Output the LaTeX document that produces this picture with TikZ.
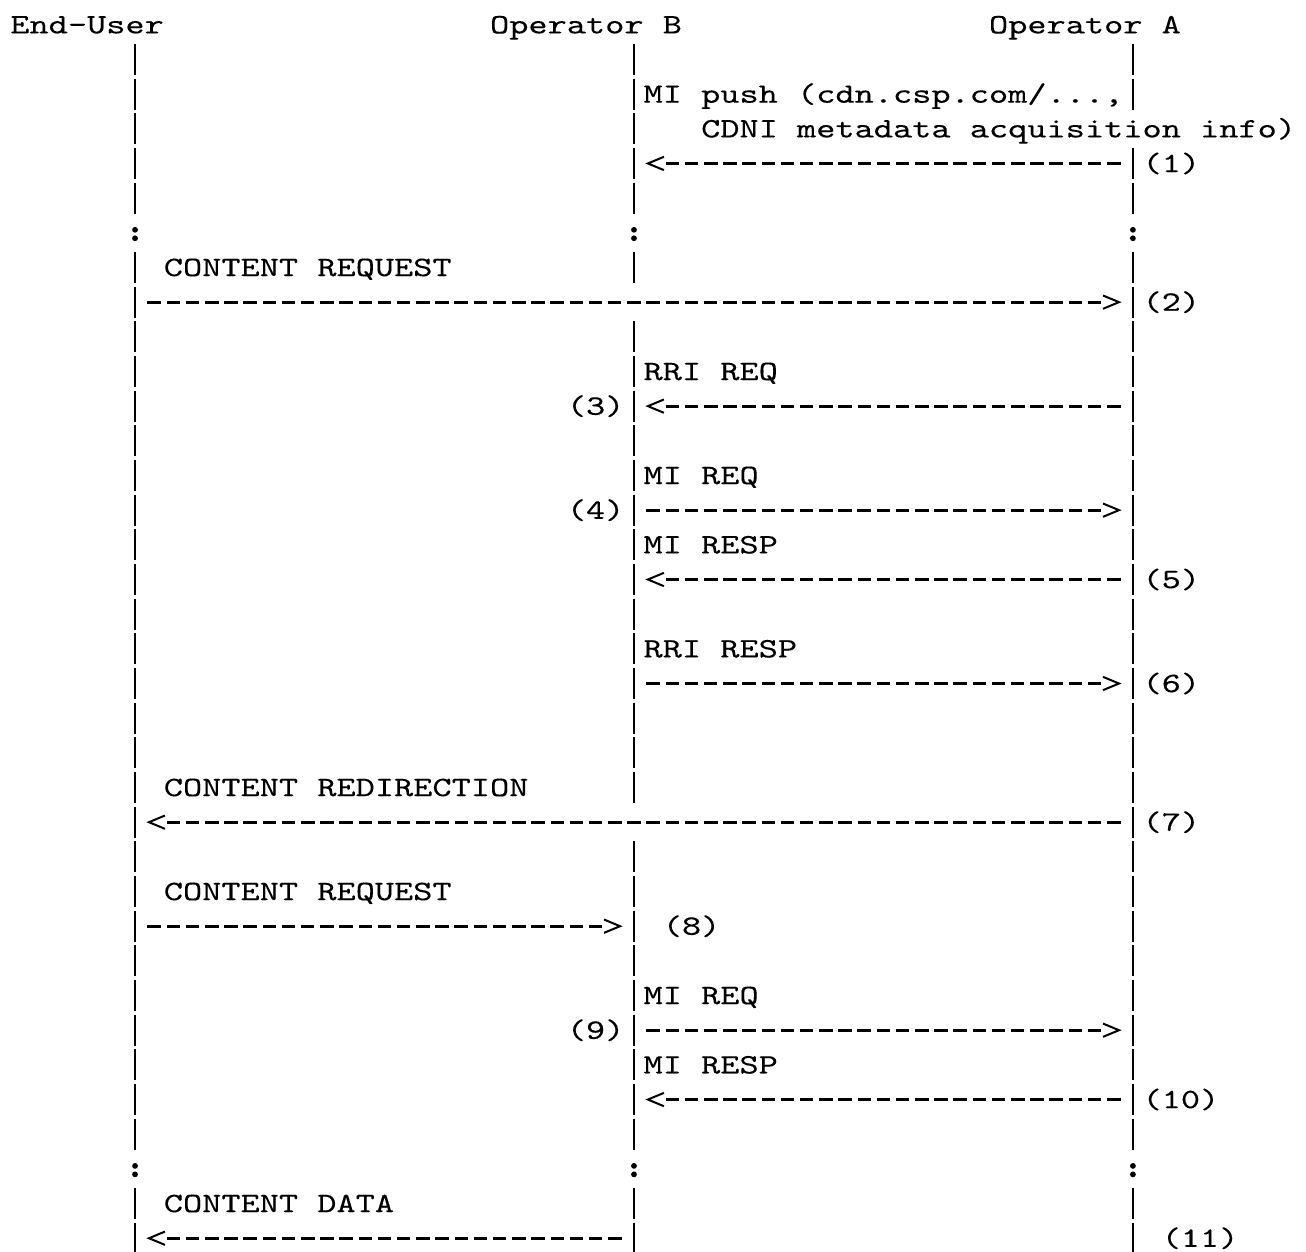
\documentclass[tikz,border=0pt]{standalone}
\usepackage{fontspec}
\usetikzlibrary{arrows.meta,decorations.markings}

% typewriter face, widened to the character grid of the chart
\newfontfamily\asciifont{lmmono10-regular.otf}[FakeStretch=1.3, FakeBold=0.15]

\begin{document}
\begin{tikzpicture}[
    x=9.595pt, y=-17.335pt,
    txt/.style={anchor=base west, inner sep=0pt, outer sep=0pt, yshift=-4.3pt,
      font=\asciifont\fontsize{14.06pt}{17pt}\selectfont},
    life/.style={line width=1pt, dash pattern=on 15.6pt off 1.735pt},
    msg/.style={line width=1.4pt, dash pattern=on 6.75pt off 2.845pt,
      shorten <=6.2pt, shorten >=14.4pt,
      postaction={decorate, decoration={markings, mark=at position -5.65pt with
        {\arrow{Straight Barb[length=8pt, width=6.65pt, line width=1pt]}}}}},
    dot/.style={circle, fill, inner sep=0pt, minimum size=2.9pt}
  ]
    \path[use as bounding box, fill=white] (-0.537,-0.715) rectangle (67.52,35.397);

    % parties
    \node[txt] (eu)  at (0,0)  {End-User};
    \node[txt] (opb) at (25,0) {Operator B};
    \node[txt] (opa) at (51,0) {Operator A};

    % lifelines: column / first row / last row
    \foreach \x/\a/\b in {6.5/1/5, 6.5/7/32, 6.5/34/35,
                          32.5/1/5, 32.5/7/7, 32.5/9/22, 32.5/24/32, 32.5/34/35,
                          58.5/1/2, 58.5/4/5, 58.5/7/32, 58.5/34/35}
      \draw[life] (\x,\a-0.45) -- (\x,\b+0.45);

    % breaks in the lifelines
    \foreach \r in {6,33}
      \foreach \x/\n in {6.5/u,32.5/b,58.5/a} {
        \node[dot, yshift=1.5pt]   (c\n\r t) at (\x,\r) {};
        \node[dot, yshift=-2.75pt] (c\n\r b) at (\x,\r) {};
      }

    % message ends on the lifelines
    \foreach \r in {4,8,11,14,16,19,23,26,29,31,35} {
      \coordinate (u\r) at (6.5,\r);
      \coordinate (b\r) at (32.5,\r);
      \coordinate (a\r) at (58.5,\r);
    }

    \foreach \f/\t in {a4/b4, u8/a8, a11/b11, b14/a14, a16/b16, b19/a19,
                       a23/u23, u26/b26, b29/a29, a31/b31, b35/u35}
      \draw[msg] (\f) -- (\t);

    % message labels
    \node[txt] (push)    at (33,2)  {MI push (cdn.csp.com/...,};
    \node[txt] (acq)     at (36,3)  {CDNI metadata acquisition info)};
    \node[txt] (creq)    at (8,7)   {CONTENT REQUEST};
    \node[txt] (rrireq)  at (33,10) {RRI REQ};
    \node[txt] (mireq)   at (33,13) {MI REQ};
    \node[txt] (miresp)  at (33,15) {MI RESP};
    \node[txt] (rriresp) at (33,18) {RRI RESP};
    \node[txt] (redir)   at (8,22)  {CONTENT REDIRECTION};
    \node[txt] (creqb)   at (8,25)  {CONTENT REQUEST};
    \node[txt] (mireqb)  at (33,28) {MI REQ};
    \node[txt] (mirespb) at (33,30) {MI RESP};
    \node[txt] (cdata)   at (8,34)  {CONTENT DATA};

    % step numbers
    \foreach \n/\c/\r in {1/59/4, 2/59/8, 3/29/11, 4/29/14, 5/59/16, 6/59/19,
                          7/59/23, 8/34/26, 9/29/29, 10/59/31, 11/60/35}
      \node[txt] (s\n) at (\c,\r) {(\n)};
  \end{tikzpicture}
\end{document}
